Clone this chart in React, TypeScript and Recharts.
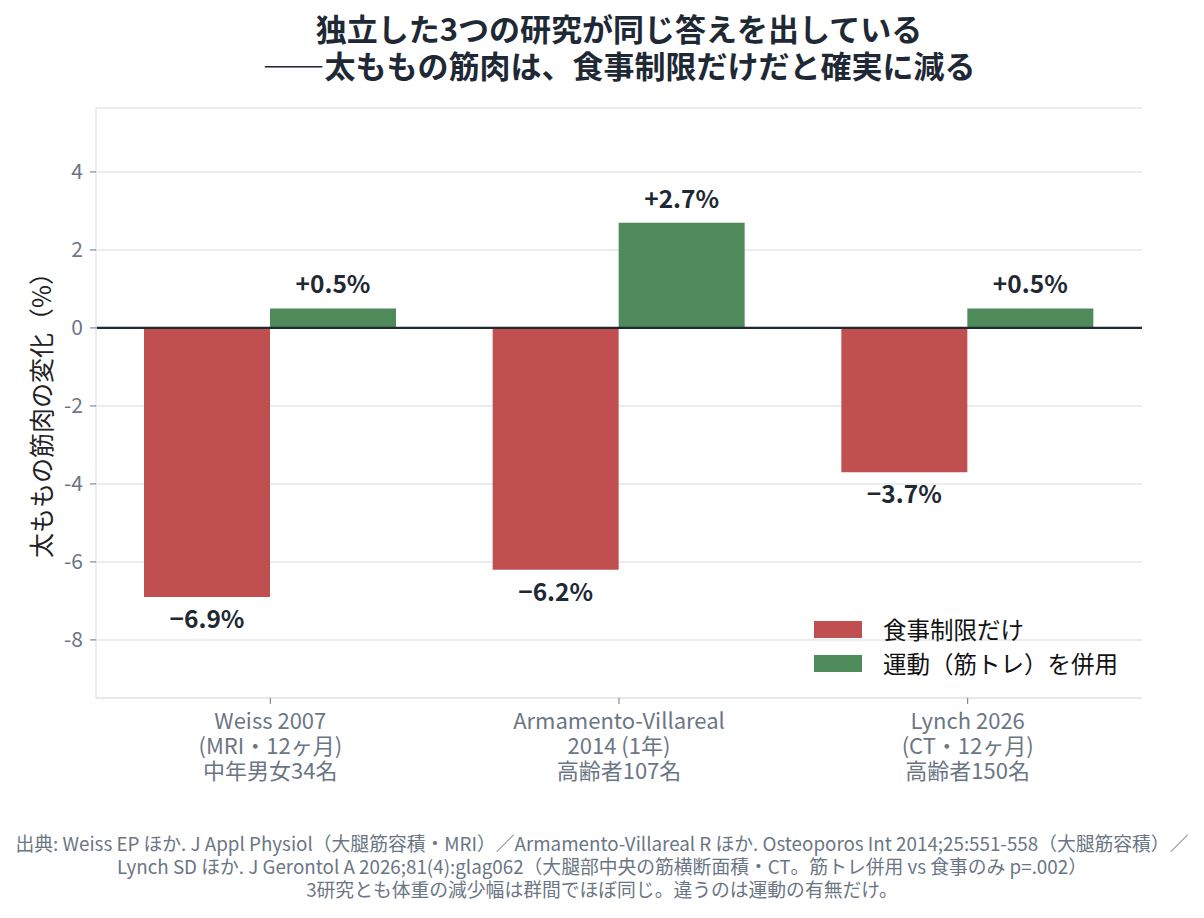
import React from 'react';
import { BarChart, Bar, XAxis, YAxis, CartesianGrid, ReferenceLine, LabelList, Label } from 'recharts';

const categories = [
  'Weiss 2007\n(MRI・12ヶ月)\n中年男女34名',
  'Armamento-Villareal\n2014 (1年)\n高齢者107名',
  'Lynch 2026\n(CT・12ヶ月)\n高齢者150名',
];
const dietOnly = [-6.9, -6.2, -3.7];
const withExercise = [0.5, 2.7, 0.5];
const yTicks = [-8, -6, -4, -2, 0, 2, 4];
const seriesNames = ['食事制限だけ', '運動（筋トレ）を併用'];
const titleLine1 = '独立した3つの研究が同じ答えを出している';
const titleDash = '——';
const titleLine2 = '太ももの筋肉は、食事制限だけだと確実に減る';
const footerLines = [
  '出典: Weiss EP ほか. J Appl Physiol（大腿筋容積・MRI）／Armamento-Villareal R ほか. Osteoporos Int 2014;25:551-558（大腿筋容積）／',
  'Lynch SD ほか. J Gerontol A 2026;81(4):glag062（大腿部中央の筋横断面積・CT。筋トレ併用 vs 食事のみ p=.002）',
  '3研究とも体重の減少幅は群間でほぼ同じ。違うのは運動の有無だけ。',
];

const data = categories.map((c, i) => ({ name: c, diet: dietOnly[i], ex: withExercise[i] }));

const FONT = '"Noto Sans CJK JP", "Noto Sans", sans-serif';
const RED = '#c0504f';
const GREEN = '#4f8a5b';
const GRAY = '#6b7685';
const DARK = '#1f2935';

const fmt = (v: number) => (v > 0 ? '+' : '\u2212') + Math.abs(v).toFixed(1) + '%';

const ValueLabel = (props: any) => {
  const { x, y, width, height, value } = props;
  const v = Number(value);
  const cx = Number(x) + Number(width) / 2;
  let ty: number;
  if (v >= 0) {
    ty = Math.min(Number(y), Number(y) + Number(height)) - 15;
  } else {
    ty = Math.max(Number(y), Number(y) + Number(height)) + 31;
  }
  return (
    <text x={cx} y={ty} textAnchor="middle" fontSize={24.5} fontWeight={700} fill={DARK} fontFamily={FONT}>
      {fmt(v)}
    </text>
  );
};

const XTick = (props: any) => {
  const { x, y, payload } = props;
  const lines = String(payload.value).split('\n');
  return (
    <text x={x} y={y + 23} textAnchor="middle" fontSize={22} fill={GRAY} fontFamily={FONT}>
      {lines.map((l, i) => (
        <tspan key={i} x={x} dy={i === 0 ? 0 : 25}>
          {l}
        </tspan>
      ))}
    </text>
  );
};

const YTick = (props: any) => {
  const { x, y, payload } = props;
  return (
    <text x={x - 5} y={y + 7} textAnchor="end" fontSize={21} fill={GRAY} fontFamily={FONT}>
      {payload.value}
    </text>
  );
};

export default function App() {
  return (
    <div style={{ position: 'absolute', left: 0, top: 0, width: 1204, height: 918, background: '#fff', fontFamily: FONT }}>
      <div style={{ position: 'absolute', left: 0, width: 1238, top: 9, textAlign: 'center', fontSize: 31, fontWeight: 700, color: DARK, lineHeight: '37px' }}>
        <div>{titleLine1}</div>
        <div>
          <span style={{ fontFeatureSettings: '"fwid"' }}>{titleDash}</span>
          {titleLine2}
        </div>
      </div>
      <BarChart
        width={1204}
        height={918}
        data={data}
        margin={{ top: 108, right: 62, left: 36, bottom: 120 }}
        barGap={0}
        barSize={126}
      >
        <CartesianGrid vertical={false} stroke="#e5e7eb" strokeWidth={1.5} />
        <XAxis
          dataKey="name"
          height={100}
          tick={<XTick />}
          interval={0}
          axisLine={{ stroke: '#e5e7eb', strokeWidth: 1.5 }}
          tickLine={{ stroke: GRAY }}
          tickSize={6}
        />
        <YAxis
          width={60}
          domain={[-9.49, 5.64]}
          ticks={yTicks}
          tick={<YTick />}
          axisLine={{ stroke: '#e5e7eb', strokeWidth: 1.5 }}
          tickLine={{ stroke: GRAY }}
          tickSize={6}
          allowDataOverflow
        >
          <Label
            content={() => (
              <text
                x={40}
                y={409}
                transform="rotate(-90, 40, 409)"
                textAnchor="middle"
                dominantBaseline="central"
                fontSize={25}
                fill="#222"
                fontFamily={FONT}
              >
                太ももの筋肉の変化（%）
              </text>
            )}
          />
        </YAxis>
        <Bar dataKey="diet" name={seriesNames[0]} fill={RED} isAnimationActive={false}>
          <LabelList dataKey="diet" content={<ValueLabel />} />
        </Bar>
        <Bar dataKey="ex" name={seriesNames[1]} fill={GREEN} isAnimationActive={false}>
          <LabelList dataKey="ex" content={<ValueLabel />} />
        </Bar>
        <ReferenceLine y={0} stroke={DARK} strokeWidth={2.2} />
      </BarChart>
      <div style={{ position: 'absolute', left: 814, top: 612, fontSize: 23.5, color: '#111' }}>
        {[RED, GREEN].map((c, i) => (
          <div key={i} style={{ display: 'flex', alignItems: 'center', height: 34, whiteSpace: 'nowrap' }}>
            <div style={{ width: 48, height: 17, background: c, marginRight: 21 }} />
            <span>{seriesNames[i]}</span>
          </div>
        ))}
      </div>
      <div style={{ position: 'absolute', left: 0, width: 1204, top: 831, textAlign: 'center', fontSize: 18.8, color: GRAY, lineHeight: '23px' }}>
        {footerLines.map((t, i) => (
          <div key={i} style={{ whiteSpace: 'nowrap' }}>{t}</div>
        ))}
      </div>
    </div>
  );
}
